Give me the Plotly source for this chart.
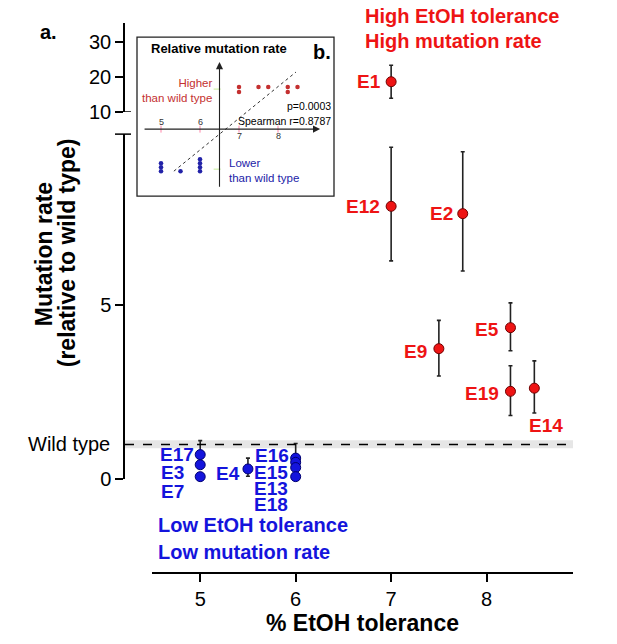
import plotly.graph_objects as go

W, H = 617, 644
K = 0.982  # observed vertical compression of the rendered page

# ---------------- data ----------------
red_names = ["E1", "E12", "E2", "E9", "E5", "E19", "E14"]
red_tol = [7.0, 7.0, 7.75, 7.5, 8.25, 8.25, 8.5]
red_rate = [18.66, 7.81, 7.60, 3.74, 4.34, 2.52, 2.61]
red_hi = [23.4, 9.50, 9.37, 4.55, 5.05, 3.25, 3.39]
red_lo = [13.9, 6.25, 5.96, 2.96, 3.68, 1.83, 1.90]

blue_names = ["E17", "E3", "E7", "E4", "E16", "E15", "E13", "E18"]
blue_tol = [5.0, 5.0, 5.0, 5.5, 6.0, 6.0, 6.0, 6.0]
blue_rate = [0.71, 0.42, 0.08, 0.30, 0.61, 0.49, 0.34, 0.08]
blue_hi = [1.11, 0.42, 0.08, 0.61, 1.03, 0.49, 0.34, 0.08]
blue_lo = [0.71, 0.42, 0.08, 0.09, 0.61, 0.49, 0.34, 0.08]

wild_type = 1.0
wild_band = [0.89, 1.12]
break_value = 10

x_ticks = [5, 6, 7, 8]
y_ticks_low = [0, 5]
y_ticks_high = [10, 20, 30]

# inset (schematic) data
inset_red_x = [7, 7, 7.5, 7.75, 8.25, 8.25, 8.5]
inset_red_y = [4.2, 3.7, 4.2, 4.2, 4.2, 3.7, 4.2]
inset_blue_x = [5, 5, 5, 5.5, 6, 6, 6, 6]
inset_blue_y = [-3.4, -3.8, -4.2, -4.2, -3.0, -3.4, -3.8, -4.2]
inset_fit_x = [5.33, 8.46]
inset_fit_y = [-4.2, 5.7]
inset_ticks = [5, 6, 7, 8]
p_text = "p=0.0003"
r_text = "Spearman r=0.8787"

# ---------------- styles ----------------
RED = "#ee1414"
BLUE = "#1414dc"
IN_RED = "#c43030"
IN_BLUE = "#2222a8"
FONT = "Liberation Sans, Arial, sans-serif"

# label placement: (xanchor, xshift px, yshift px)
label_pos = {
    "E1": ("right", -8, 0), "E12": ("right", -9, 0), "E2": ("right", -8, 0),
    "E9": ("right", -10, -3), "E5": ("right", -9, -2), "E19": ("right", -9, -2),
    "E14": ("center", 12, -37),
    "E17": ("right", -4, 0), "E3": ("right", -14, -8), "E7": ("right", -14, -15),
    "E4": ("right", -6, -5),
    "E16": ("right", -5, 3), "E15": ("right", -6, -10), "E13": ("right", -6, -21),
    "E18": ("right", -6, -28),
}


def px(x):
    return x / W


def py(y):
    return 1 - (y / K) / H


fig = go.Figure()

# split red into lower/upper panels
lo_idx = [i for i, v in enumerate(red_rate) if v < break_value]
hi_idx = [i for i, v in enumerate(red_rate) if v >= break_value]


def red_trace(idx, yaxis):
    return go.Scatter(
        x=[red_tol[i] for i in idx], y=[red_rate[i] for i in idx],
        mode="markers", xaxis="x", yaxis=yaxis, cliponaxis=False,
        marker=dict(size=10, color=RED, line=dict(color="#700000", width=1)),
        error_y=dict(type="data",
                     array=[red_hi[i] - red_rate[i] for i in idx],
                     arrayminus=[red_rate[i] - red_lo[i] for i in idx],
                     color="#222222", thickness=1.6, width=2),
        showlegend=False, hoverinfo="skip")


fig.add_trace(red_trace(lo_idx, "y"))
fig.add_trace(red_trace(hi_idx, "y2"))

fig.add_trace(go.Scatter(
    x=blue_tol, y=blue_rate, mode="markers", xaxis="x", yaxis="y", cliponaxis=False,
    marker=dict(size=10, color=BLUE, line=dict(color="#000070", width=1)),
    error_y=dict(type="data",
                 array=[h - v for h, v in zip(blue_hi, blue_rate)],
                 arrayminus=[v - l for v, l in zip(blue_rate, blue_lo)],
                 color="#222222", thickness=1.6, width=2),
    showlegend=False, hoverinfo="skip"))

# inset traces
fig.add_trace(go.Scatter(x=inset_fit_x, y=inset_fit_y, mode="lines", xaxis="x3", yaxis="y3",
                         line=dict(color="#333333", width=1, dash="dot"),
                         showlegend=False, hoverinfo="skip"))
fig.add_trace(go.Scatter(x=inset_red_x, y=inset_red_y, mode="markers", xaxis="x3", yaxis="y3",
                         marker=dict(size=4.5, color=IN_RED), showlegend=False, hoverinfo="skip"))
fig.add_trace(go.Scatter(x=inset_blue_x, y=inset_blue_y, mode="markers", xaxis="x3", yaxis="y3",
                         marker=dict(size=4.5, color=IN_BLUE), showlegend=False, hoverinfo="skip"))
fig.add_trace(go.Scatter(x=inset_ticks, y=[0] * len(inset_ticks), mode="markers",
                         xaxis="x3", yaxis="y3",
                         marker=dict(symbol="line-ns-open", size=5, line=dict(width=0.8, color="#333")),
                         showlegend=False, hoverinfo="skip"))
fig.add_trace(go.Scatter(x=[6.44, 6.44], y=[4.0, -4.0], mode="markers",
                         xaxis="x3", yaxis="y3",
                         marker=dict(symbol="line-ew-open", size=5, line=dict(width=0.8, color="#333")),
                         showlegend=False, hoverinfo="skip"))

ann = []
# point labels
for names, xs, ys, col in ((red_names, red_tol, red_rate, RED), (blue_names, blue_tol, blue_rate, BLUE)):
    for n, x, y in zip(names, xs, ys):
        xa, xs_, ys_ = label_pos[n]
        ann.append(dict(x=x, y=y, xref="x", yref="y2" if y >= break_value else "y",
                        text=f"<b>{n}</b>", showarrow=False, xanchor=xa, yanchor="middle",
                        xshift=xs_, yshift=ys_, font=dict(size=19, color=col, family=FONT)))

# group texts
ann += [
    dict(x=px(363), y=py(16), xref="paper", yref="paper", text="<b>High EtOH tolerance</b>",
         showarrow=False, xanchor="left", yanchor="middle", font=dict(size=20, color=RED, family=FONT)),
    dict(x=px(363), y=py(41), xref="paper", yref="paper", text="<b>High mutation rate</b>",
         showarrow=False, xanchor="left", yanchor="middle", font=dict(size=20, color=RED, family=FONT)),
    dict(x=px(156), y=py(525), xref="paper", yref="paper", text="<b>Low EtOH tolerance</b>",
         showarrow=False, xanchor="left", yanchor="middle", font=dict(size=20, color=BLUE, family=FONT)),
    dict(x=px(156), y=py(551), xref="paper", yref="paper", text="<b>Low mutation rate</b>",
         showarrow=False, xanchor="left", yanchor="middle", font=dict(size=20, color=BLUE, family=FONT)),
    dict(x=px(38), y=py(32), xref="paper", yref="paper", text="<b>a.</b>",
         showarrow=False, xanchor="left", yanchor="middle", font=dict(size=20, color="black", family=FONT)),
    dict(x=px(112), y=wild_type, xref="paper", yref="y", text="Wild type",
         showarrow=False, xanchor="right", yanchor="middle", font=dict(size=20, color="black", family=FONT)),
    dict(x=px(44), y=py(254), xref="paper", yref="paper",
         text="<b>Mutation rate</b>", textangle=-90,
         showarrow=False, xanchor="center", yanchor="middle",
         font=dict(size=23, color="black", family=FONT)),
    dict(x=px(67), y=py(253), xref="paper", yref="paper",
         text="<b>(relative to wild type)</b>", textangle=-90,
         showarrow=False, xanchor="center", yanchor="middle",
         font=dict(size=23, color="black", family=FONT)),
    dict(x=px(362), y=py(622), xref="paper", yref="paper", text="<b>% EtOH tolerance</b>",
         showarrow=False, xanchor="center", yanchor="middle", font=dict(size=23, color="black", family=FONT)),
]

# inset annotations
ann += [
    dict(x=9.08, y=0, ax=4.54, ay=0, xref="x3", yref="y3", axref="x3", ayref="y3", text="",
         showarrow=True, arrowhead=2, arrowsize=1.3, arrowwidth=1.1, arrowcolor="#222"),
    dict(x=6.5, y=6.7, ax=6.5, ay=-5.9, xref="x3", yref="y3", axref="x3", ayref="y3", text="",
         showarrow=True, arrowhead=2, arrowsize=1.3, arrowwidth=1.1, arrowcolor="#222"),
    dict(x=6.49, y=8.1, xref="x3", yref="y3", text="<b>Relative mutation rate</b>", showarrow=False,
         xanchor="center", yanchor="middle", font=dict(size=13, color="black", family=FONT)),
    dict(x=px(322), y=py(52), xref="paper", yref="paper", text="<b>b.</b>", showarrow=False,
         xanchor="center", yanchor="middle", font=dict(size=20, color="black", family=FONT)),
    dict(x=6.36, y=3.9, xref="x3", yref="y3", text="Higher<br>than wild type", showarrow=False,
         xanchor="right", yanchor="middle", align="right",
         font=dict(size=11.5, color=IN_RED, family=FONT)),
    dict(x=6.69, y=-4.1, xref="x3", yref="y3", text="Lower<br>than wild type", showarrow=False,
         xanchor="left", yanchor="middle", align="left",
         font=dict(size=11.5, color=IN_BLUE, family=FONT)),
    dict(x=9.41, y=2.3, xref="x3", yref="y3", text=p_text, showarrow=False,
         xanchor="right", yanchor="middle", font=dict(size=10.5, color="black", family=FONT)),
    dict(x=9.41, y=0.8, xref="x3", yref="y3", text=r_text, showarrow=False,
         xanchor="right", yanchor="middle", font=dict(size=10.5, color="black", family=FONT)),
]
for t in inset_ticks:
    ann.append(dict(x=t, y=0.7 if t < 6.5 else -0.7, xref="x3", yref="y3", text=str(t),
                    showarrow=False, xanchor="center", yanchor="middle",
                    font=dict(size=9, color="#333", family=FONT)))

shapes = [
    # wild type band + dashed line
    dict(type="rect", xref="paper", yref="y", x0=px(124), x1=px(573), y0=wild_band[0], y1=wild_band[1],
         fillcolor="#e6e6e6", line=dict(width=0), layer="below"),
    dict(type="line", xref="paper", yref="y", x0=px(125), x1=px(573), y0=wild_type, y1=wild_type,
         line=dict(color="black", width=1.4, dash="dash")),
    # axis break marks
    dict(type="line", xref="paper", yref="y2", x0=px(115), x1=px(131), y0=break_value, y1=break_value,
         line=dict(color="black", width=1.5)),
    dict(type="line", xref="paper", yref="paper", x0=px(115), x1=px(131), y0=py(134), y1=py(134),
         line=dict(color="black", width=1.5)),
    # inset frame
    dict(type="rect", xref="paper", yref="paper", x0=px(137), x1=px(334), y0=py(196), y1=py(37),
         line=dict(color="#222", width=1.3), fillcolor="rgba(0,0,0,0)"),
]

axis_font = dict(size=20, color="black", family=FONT)
fig.update_layout(
    width=W, height=H, autosize=False, margin=dict(l=0, r=0, t=0, b=0),
    paper_bgcolor="white", plot_bgcolor="rgba(0,0,0,0)",
    showlegend=False, font=dict(family=FONT),
    xaxis=dict(domain=[px(152), px(573)], range=[4.495, 8.905], anchor="free", position=py(572.5),
               showline=True, linecolor="black", linewidth=1.5, ticks="outside", ticklen=8,
               tickwidth=1.5, tickcolor="black", tickvals=x_ticks, tickfont=axis_font,
               showgrid=False, zeroline=False),
    yaxis=dict(domain=[py(479), py(134)], range=[0, (479 - 134) / 34.94], anchor="free",
               position=px(124), showline=True, linecolor="black", linewidth=1.5,
               ticks="outside", ticklen=8, tickwidth=1.5, tickcolor="black",
               tickvals=y_ticks_low, tickfont=axis_font, showgrid=False, zeroline=False),
    yaxis2=dict(domain=[py(111.7), py(23)], range=[10, 10 + (111.7 - 23) / 3.47], anchor="free",
                position=px(124), showline=True, linecolor="black", linewidth=1.5,
                ticks="outside", ticklen=8, tickwidth=1.5, tickcolor="black",
                tickvals=y_ticks_high, tickfont=axis_font, showgrid=False, zeroline=False),
    xaxis3=dict(domain=[px(137), px(334)], range=[5 + (137 - 161) / 39, 5 + (334 - 161) / 39],
                anchor="y3", visible=False),
    yaxis3=dict(domain=[py(196), py(37)], range=[(129 - 196) / 10, (129 - 37) / 10],
                anchor="x3", visible=False),
    annotations=ann, shapes=shapes,
)

fig.write_html("out.html",
               config={"displayModeBar": False, "responsive": False},
               post_script="document.body.style.margin='0';document.body.style.padding='0';"
                           "document.body.style.overflow='hidden';")
